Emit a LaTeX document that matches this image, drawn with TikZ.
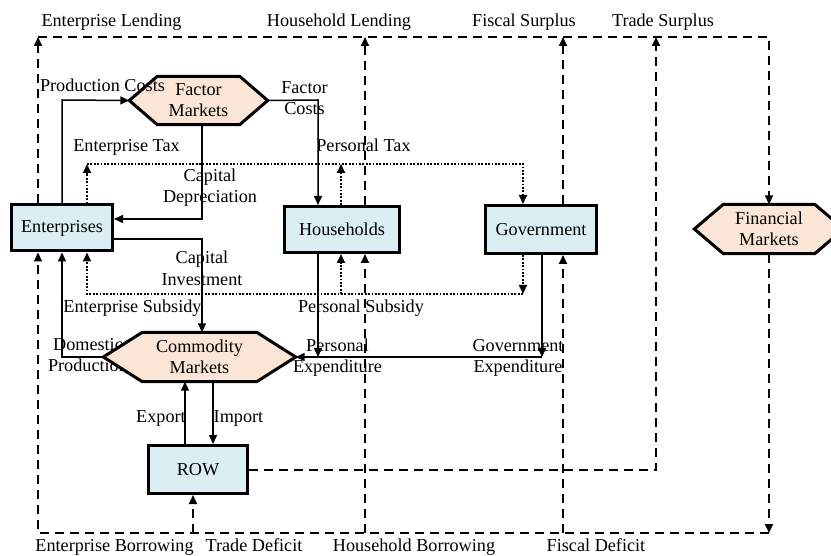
\documentclass[tikz,border=0pt]{standalone}
\usepackage{fontspec}
\setmainfont{Liberation Serif}
\usetikzlibrary{arrows.meta,calc}
\pgfdeclarelayer{lab}
\pgfdeclarelayer{hexbg}
\pgfsetlayers{lab,hexbg,main}
\definecolor{boxblue}{HTML}{DAEEF3}
\definecolor{hexpeach}{HTML}{FBE5D6}
\newcommand\hexdraw[2]{%
  \begin{pgfonlayer}{hexbg}
  \draw[line width=3pt, fill=hexpeach] (#1.west) -- ($(#1.north west)+(#2,0)$) -- ($(#1.north east)+(-#2,0)$) -- (#1.east) -- ($(#1.south east)+(-#2,0)$) -- ($(#1.south west)+(#2,0)$) -- cycle;
  \end{pgfonlayer}}
\begin{document}
\begin{tikzpicture}[x=1pt,y=-1pt,
  font=\fontsize{18.2}{21}\selectfont,
  box/.style={draw, line width=3pt, fill=boxblue, inner sep=0pt, align=center},
  hexn/.style={inner sep=0pt, align=center},
  lbl/.style={inner sep=0pt, anchor=base},
  sol/.style={line width=1.5pt},
  dsh/.style={line width=2pt, dash pattern=on 9pt off 6pt},
  dot/.style={line width=1.8pt, dash pattern=on 1.8pt off 1.6pt},
  tip/.style={-{Triangle[length=9pt,width=8pt]}}]
\useasboundingbox (0,0) rectangle (831,556);
% labels
\begin{pgfonlayer}{lab}
\node[lbl] (lEL) at (111.5,27) {Enterprise Lending};
\node[lbl] (lHL) at (339,27) {Household Lending};
\node[lbl] (lFS) at (524,27) {Fiscal Surplus};
\node[lbl] (lTS) at (663,27) {Trade Surplus};
\node[lbl] (lFC1) at (304.5,94) {Factor};
\node[lbl] (lFC2) at (304.5,115) {Costs};
\node[lbl] (lET) at (126.5,152) {Enterprise Tax};
\node[lbl] (lPT) at (363.5,152) {Personal Tax};
\node[lbl] (lCD1) at (210,182) {Capital};
\node[lbl] (lCD2) at (210,203) {Depreciation};
\node[lbl] (lCI1) at (202,264) {Capital};
\node[lbl] (lCI2) at (202,286) {Investment};
\node[lbl] (lES) at (132.5,313) {Enterprise Subsidy};
\node[lbl] (lPS) at (361,313) {Personal Subsidy};
\node[lbl] (lDP1) at (88,351) {Domestic};
\node[lbl] (lDP2) at (88,372) {Production};
\node[lbl] (lPE1) at (337.5,352) {Personal};
\node[lbl] (lPE2) at (337.5,373) {Expenditure};
\node[lbl] (lGE1) at (518,352) {Government};
\node[lbl] (lGE2) at (518,373) {Expenditure};
\node[lbl] (lEx) at (161,423) {Export};
\node[lbl] (lIm) at (238.5,423) {Import};
\node[lbl] (lEB) at (114.5,551) {Enterprise Borrowing};
\node[lbl] (lTD) at (254,551) {Trade Deficit};
\node[lbl] (lHB) at (414,551) {Household Borrowing};
\node[lbl] (lFD) at (596,551) {Fiscal Deficit};
\end{pgfonlayer}
% nodes
\node[box, minimum width=101pt, minimum height=46pt] (ent) at (62,228) {Enterprises};
\node[box, minimum width=115pt, minimum height=46pt] (hh) at (342,229.5) {Households};
\node[box, minimum width=111pt, minimum height=48pt] (gov) at (541,229.5) {Government};
\node[box, minimum width=99pt, minimum height=48pt] (row) at (198,469.5) {ROW};
\node[hexn, minimum width=138pt, minimum height=48pt] (fac) at (198.5,100.5) {Factor\\Markets};
\node[hexn, minimum width=192pt, minimum height=49pt] (com) at (199.5,357) {Commodity\\Markets};
\node[hexn, minimum width=149pt, minimum height=49pt] (fin) at (769,229) {Financial\\Markets};
\hexdraw{fac}{28}
\hexdraw{com}{39}
\hexdraw{fin}{29}
\node[lbl] (lPC) at (102.5,92) {Production Costs};
% coordinates
\coordinate (TL) at (38,37); \coordinate (TR) at (769,37);
\coordinate (BL) at (38,533); \coordinate (BR) at (769,533);
\coordinate (hl) at (365,37); \coordinate (fs) at (563,37);
\coordinate (ts) at (656,37); \coordinate (tsr) at (656,469.5);
\coordinate (hb) at (365,533); \coordinate (fd) at (563,533); \coordinate (td) at (193,533);
\coordinate (pc) at (62,100); \coordinate (fc) at (318,100);
\coordinate (cd) at (202,219); \coordinate (ci) at (202,239);
\coordinate (dp) at (62,357); \coordinate (pe) at (318,357); \coordinate (ge) at (542,357);
\coordinate (et) at (87,164); \coordinate (pt) at (341,164); \coordinate (gt) at (523,164);
\coordinate (gs) at (523,294); \coordinate (es) at (87,294); \coordinate (ps) at (341,294);
\coordinate (ex) at (185,0); \coordinate (im) at (213,0);
% solid flows
\draw[sol,tip] (ent.north -| pc) -- (pc) -- (fac.west);
\draw[sol,tip] (fac.east) -- (fc) -- (hh.north -| fc);
\draw[sol,tip] (fac.south -| cd) -- (cd) -- (ent.east |- cd);
\draw[sol,tip] (ent.east |- ci) -- (ci) -- (com.north -| ci);
\draw[sol,tip] (com.west) -- (dp) -- (ent.south -| dp);
\draw[sol,tip] (hh.south -| pe) -- (pe);
\draw[sol,tip] (gov.south -| ge) -- (ge);
\draw[sol,tip] (ge) -- (com.east);
\draw[sol,tip] (row.north -| ex) -- (com.south -| ex);
\draw[sol,tip] (com.south -| im) -- (row.north -| im);
% dotted flows
\draw[dot,tip] (ent.north -| et) -- (et);
\draw[dot,tip] (hh.north -| pt) -- (pt);
\draw[dot,tip] (et) -- (gt) -- (gov.north -| gt);
\draw[dot,tip] (gov.south -| gs) -- (gs);
\draw[dot,tip] (gs) -- (es) -- (ent.south -| es);
\draw[dot,tip] (ps) -- (hh.south -| ps);
% dashed flows
\draw[dsh,tip] (ent.north -| TL) -- (TL);
\draw[dsh,tip] (TL) -- (TR) -- (fin.north);
\draw[dsh,tip] (hh.north -| hl) -- (hl);
\draw[dsh,tip] (gov.north -| fs) -- (fs);
\draw[dsh,tip] (row.east) -- (tsr) -- (ts);
\draw[dsh,tip] (fin.south) -- (BR);
\draw[dsh,tip] (BR) -- (BL) -- (ent.south -| BL);
\draw[dsh,tip] (hb) -- (hh.south -| hb);
\draw[dsh,tip] (fd) -- (gov.south -| fd);
\draw[dsh,tip] (td) -- (row.south -| td);
\end{tikzpicture}
\end{document}
